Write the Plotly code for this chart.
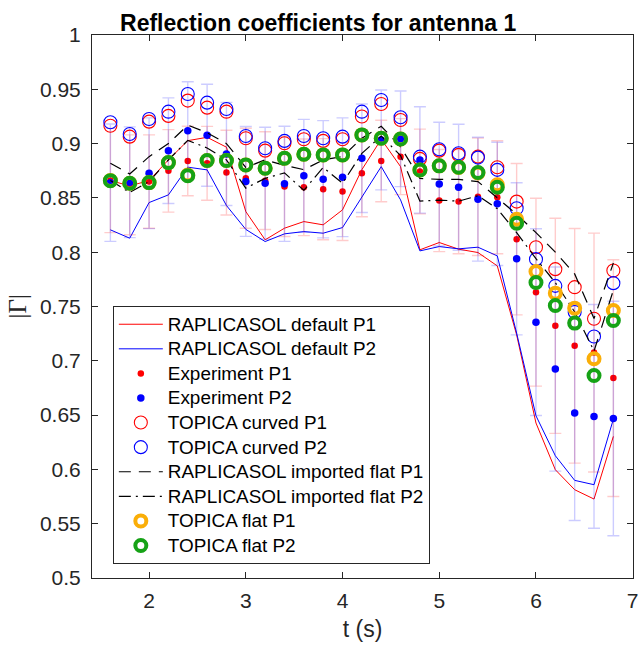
import plotly.graph_objects as go

t = [1.6, 1.8, 2.0, 2.2, 2.4, 2.6, 2.8, 3.0, 3.2, 3.4, 3.6, 3.8, 4.0, 4.2, 4.4,
     4.6, 4.8, 5.0, 5.2, 5.4, 5.6, 5.8, 6.0, 6.2, 6.4, 6.6, 6.8]

rap_default_p1 = [0.866, 0.861, 0.866, 0.885, 0.9027, 0.9058, 0.8967, 0.8374, 0.8114, 0.8221,
                  0.8282, 0.8252, 0.839, 0.876, 0.904, 0.8788, 0.8022, 0.8089, 0.8028, 0.7997,
                  0.7874, 0.7239, 0.6427, 0.5997, 0.5813, 0.5727, 0.6304]
rap_default_p2 = [0.8206, 0.8129, 0.8457, 0.8528, 0.8783, 0.8758, 0.843, 0.821, 0.8098, 0.8169,
                  0.819, 0.8175, 0.8227, 0.8512, 0.8788, 0.8482, 0.8012, 0.8052, 0.8031, 0.8046,
                  0.7966, 0.7255, 0.6494, 0.6126, 0.5899, 0.5859, 0.6463]
exp_p1 = [0.866, 0.862, 0.865, 0.8749, 0.884, 0.8819, 0.8733, 0.8681, 0.8659, 0.8604,
          0.8598, 0.858, 0.8558, 0.8727, 0.884, 0.888, 0.8743, 0.8475, 0.8466, 0.851,
          0.8506, 0.812, 0.7632, 0.7322, 0.7138, 0.7076, 0.6841]
exp_p1_err = [0.048, 0.046, 0.043, 0.038, 0.032, 0.034, 0.039, 0.046, 0.045, 0.046,
              0.0445, 0.0466, 0.045, 0.040, 0.0375, 0.035, 0.039, 0.047, 0.048, 0.054,
              0.052, 0.0697, 0.0865, 0.099, 0.108, 0.110, 0.109]
exp_p2 = [0.864, 0.8644, 0.8727, 0.8935, 0.9119, 0.9077, 0.8905, 0.8652, 0.8635, 0.863,
          0.8703, 0.8672, 0.869, 0.8865, 0.9034, 0.9044, 0.885, 0.8627, 0.8598, 0.8488,
          0.8445, 0.7939, 0.7356, 0.6924, 0.6519, 0.6488, 0.6469]
exp_p2_err = [0.054, 0.051, 0.051, 0.0486, 0.045, 0.047, 0.0475, 0.0506, 0.0515, 0.053,
              0.052, 0.054, 0.0547, 0.050, 0.046, 0.044, 0.049, 0.057, 0.058, 0.057,
              0.0568, 0.070, 0.086, 0.094, 0.099, 0.103, 0.108]
topica_curved_p1 = [0.9165, 0.9064, 0.9202, 0.9255, 0.9396, 0.9331, 0.9294, 0.9049, 0.8935, 0.9003,
                    0.904, 0.9025, 0.904, 0.9249, 0.9365, 0.9218, 0.8859, 0.8935, 0.8896, 0.888,
                    0.8782, 0.8466, 0.8046, 0.7844, 0.7678, 0.7387, 0.7831]
topica_curved_p2 = [0.9196, 0.9089, 0.9227, 0.9294, 0.9457, 0.9377, 0.9319, 0.907, 0.8957, 0.9025,
                    0.907, 0.9049, 0.9064, 0.9294, 0.9402, 0.9242, 0.888, 0.8948, 0.8911, 0.8871,
                    0.8758, 0.8405, 0.7936, 0.769, 0.745, 0.7224, 0.7715]
rap_flat_p1 = [0.882, 0.872, 0.888, 0.900, 0.917, 0.910, 0.900, 0.878, 0.885, 0.880,
               0.876, 0.885, 0.888, 0.905, 0.916, 0.897, 0.868, 0.867, 0.867, 0.865,
               0.850, 0.835, 0.818, 0.800, 0.780, 0.739, 0.790]
rap_flat_p2 = [0.866, 0.855, 0.865, 0.885, 0.903, 0.896, 0.885, 0.859, 0.868, 0.873,
               0.857, 0.878, 0.8635, 0.891, 0.907, 0.889, 0.847, 0.848, 0.847, 0.852,
               0.840, 0.818, 0.794, 0.772, 0.745, 0.709, 0.765]
topica_flat_p1 = [0.866, 0.8635, 0.8641, 0.8825, 0.871, 0.8844, 0.8844, 0.8804, 0.8773, 0.8865,
                  0.8902, 0.8896, 0.8896, 0.908, 0.9049, 0.9043, 0.8758, 0.8795, 0.878, 0.873,
                  0.862, 0.8304, 0.7822, 0.7623, 0.7485, 0.7019, 0.7463]
topica_flat_p2 = [0.8659, 0.8635, 0.8641, 0.8825, 0.8705, 0.8844, 0.8844, 0.8804, 0.8773, 0.8865,
                  0.8902, 0.8896, 0.8896, 0.908, 0.9049, 0.9043, 0.8758, 0.8795, 0.8783, 0.8734,
                  0.8598, 0.8267, 0.7721, 0.7509, 0.7347, 0.6865, 0.7371]

x_ticks = [2, 3, 4, 5, 6, 7]
x_tick_labels = ["2", "3", "4", "5", "6", "7"]
y_ticks = [0.5, 0.55, 0.6, 0.65, 0.7, 0.75, 0.8, 0.85, 0.9, 0.95, 1.0]
y_tick_labels = ["0.5", "0.55", "0.6", "0.65", "0.7", "0.75", "0.8", "0.85", "0.9", "0.95", "1"]

RED = "rgb(255,0,0)"
BLUE = "rgb(0,0,255)"
ORANGE = "rgb(250,174,8)"
GREEN = "rgb(22,162,22)"
AX = "#262626"
FONT = "Liberation Sans, Arial, sans-serif"


def lg(name):
    return '<span style="font-size:18.9px">' + name + "</span>"


fig = go.Figure()
fig.add_trace(go.Scatter(x=t, y=rap_default_p1, mode="lines", name=lg("RAPLICASOL default P1"),
                         line=dict(color=RED, width=1)))
fig.add_trace(go.Scatter(x=t, y=rap_default_p2, mode="lines", name=lg("RAPLICASOL default P2"),
                         line=dict(color=BLUE, width=1)))
fig.add_trace(go.Scatter(x=t, y=exp_p1, mode="markers", name=lg("Experiment P1"),
                         marker=dict(color=RED, size=6.5),
                         error_y=dict(type="data", array=exp_p1_err, visible=True,
                                      color="rgba(255,0,0,0.2)", thickness=1.4, width=6)))
fig.add_trace(go.Scatter(x=t, y=exp_p2, mode="markers", name=lg("Experiment P2"),
                         marker=dict(color=BLUE, size=7.5),
                         error_y=dict(type="data", array=exp_p2_err, visible=True,
                                      color="rgba(0,0,255,0.2)", thickness=1.4, width=6)))
fig.add_trace(go.Scatter(x=t, y=topica_curved_p1, mode="markers", name=lg("TOPICA curved P1"),
                         marker=dict(symbol="circle-open", color=RED, size=13, line=dict(width=1.1))))
fig.add_trace(go.Scatter(x=t, y=topica_curved_p2, mode="markers", name=lg("TOPICA curved P2"),
                         marker=dict(symbol="circle-open", color=BLUE, size=13, line=dict(width=1.1))))
fig.add_trace(go.Scatter(x=t, y=rap_flat_p1, mode="lines", name=lg("RAPLICASOL imported flat P1"),
                         line=dict(color="black", width=1.2, dash="12px,8px")))
fig.add_trace(go.Scatter(x=t, y=rap_flat_p2, mode="lines", name=lg("RAPLICASOL imported flat P2"),
                         line=dict(color="black", width=1.2, dash="12px,5px,2px,5px")))
fig.add_trace(go.Scatter(x=t, y=topica_flat_p1, mode="markers", name=lg("TOPICA flat P1"),
                         marker=dict(symbol="circle-open", color=ORANGE, size=11, line=dict(width=4))))
fig.add_trace(go.Scatter(x=t, y=topica_flat_p2, mode="markers", name=lg("TOPICA flat P2"),
                         marker=dict(symbol="circle-open", color=GREEN, size=11, line=dict(width=4))))

axis_common = dict(showline=True, linecolor=AX, linewidth=1, mirror="ticks", ticks="inside",
                   ticklen=6, tickcolor=AX, tickwidth=1, showgrid=False, zeroline=False,
                   automargin=False, tickfont=dict(family=FONT, size=21, color=AX))

fig.update_layout(
    width=640, height=647,
    margin=dict(l=92, r=7, t=35, b=69, autoexpand=False),
    paper_bgcolor="white", plot_bgcolor="white",
    showlegend=True,
    title=dict(text="<b>Reflection coefficients for antenna 1</b>", x=0.418, xref="paper",
               xanchor="center", y=0.965, yref="container", yanchor="middle",
               font=dict(family=FONT, size=23, color="black")),
    xaxis=dict(range=[1.41, 7.003], tickvals=x_ticks, ticktext=x_tick_labels,
               ticklabelstandoff=4, ticklabeloverflow="allow",
               title=dict(text="t (s)", font=dict(family=FONT, size=23, color=AX), standoff=9),
               **axis_common),
    yaxis=dict(range=[0.5, 1.0], tickvals=y_ticks, ticktext=y_tick_labels,
               ticklabelstandoff=6, **axis_common),
    legend=dict(x=0.0385, y=0.501, xanchor="left", yanchor="top", bgcolor="white",
                bordercolor=AX, borderwidth=1, font=dict(family=FONT, size=16.6, color="black"),
                tracegroupgap=0, itemwidth=44),
    annotations=[dict(text="|Γ|", textangle=-90, xref="paper", yref="paper", x=-0.137, y=0.5,
                      xanchor="center", yanchor="middle", showarrow=False,
                      font=dict(family="Liberation Serif, Times New Roman, serif", size=25, color=AX))],
)

fig.write_html("out.html")
